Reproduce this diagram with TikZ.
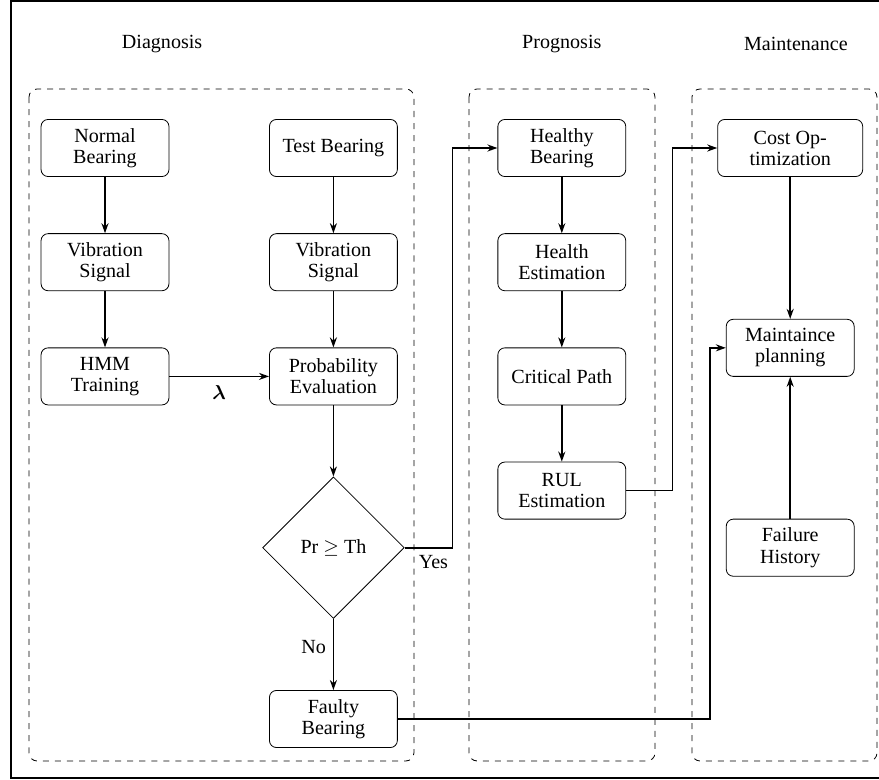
\documentclass[tikz,border=0pt]{standalone}
\usepackage{amsmath,amssymb}
\usepackage{fontspec}
\setmainfont{Liberation Serif}
\usepackage{xcolor}
\usepackage{tikz}
\usetikzlibrary{shapes,arrows,positioning,calc,arrows.meta}
\tikzset{
  block/.style={draw, rectangle, rounded corners=3.5pt, minimum width=2.24cm, minimum height=1cm, align=center, font=\fontsize{10}{10.5}\selectfont},
  decision/.style={draw, diamond, aspect=1, minimum width=2.48cm, minimum height=2.48cm, inner sep=0pt},
  flow/.style={draw, thick, -{Stealth[length=5pt,width=3.5pt]}},
  group/.style={draw, dashed, rounded corners=4pt}
}

\begin{document}
\begin{tikzpicture}
        \useasboundingbox (-1.839,2.592) rectangle (13.555,-11.068);
        \draw [thick] (13.8,2.574) -- (-1.646,2.574) -- (-1.646,-11.03) -- (13.8,-11.03);
        \node (diag) at (1,1.82) {Diagnosis};
        \node (prog) at (8,1.82) {Prognosis};
        \node (main) at (12.1,1.82) {Maintenance};
        \draw [group] (-1.331,1.033) rectangle (5.41,-10.735);
        \draw [group] (6.375,1.033) rectangle (9.632,-10.735);
        \draw [group] (10.28,1.033) rectangle (13.52,-10.735);
        \node [block] (nb) at (0,0) {Normal\\Bearing};
        \node [block] (vs1) at (0,-2) {Vibration\\Signal};
        \node [block] (hmm) at (0,-4) {HMM\\Training};
        \node [block] (tb) at (4,0) {Test Bearing};
        \node [block] (vs2) at (4,-2) {Vibration\\Signal};
        \node [block] (pe) at (4,-4) {Probability\\Evaluation};
        \node [decision] (dec) at (4,-7) {Pr $\geq$ Th};
        \node [block] (fb) at (4,-10) {Faulty\\Bearing};
        \node [block] (hb) at (8,0) {Healthy\\Bearing};
        \node [block] (he) at (8,-2) {Health\\Estimation};
        \node [block] (cp) at (8,-4) {Critical Path};
        \node [block] (rul) at (8,-6) {RUL\\Estimation};
        \node [block, minimum width=2.54cm] (co) at (12,0) {Cost Op-\\timization};
        \node [block] (mp) at (12,-3.5) {Maintaince\\planning};
        \node [block] (fh) at (12,-7) {Failure\\History};
        \draw [flow] (nb) -- (vs1);
        \draw [flow] (vs1) -- (hmm);
        \draw [flow] (tb) -- (vs2);
        \draw [flow] (vs2) -- (pe);
        \draw [flow] (hmm) -- node [below=1pt] {$\boldsymbol{\lambda}$} (pe);
        \draw [flow] (pe) -- (dec);
        \draw [flow] (dec) -- node [left, pos=0.4] {No} (fb);
        \draw [flow] (dec.east) -- node [below, pos=0.6] {Yes} ++(0.84,0) |- (hb.west);
        \draw [flow] (hb) -- (he);
        \draw [flow] (he) -- (cp);
        \draw [flow] (cp) -- (rul);
        \draw [flow] (rul.east) -- ++(0.81,0) |- (co.west);
        \draw [flow] (co) -- (mp);
        \draw [flow] (fh) -- (mp);
        \draw [flow] (fb.east) -- ++(5.47,0) |- (mp.west);
    \end{tikzpicture}
\end{document}
